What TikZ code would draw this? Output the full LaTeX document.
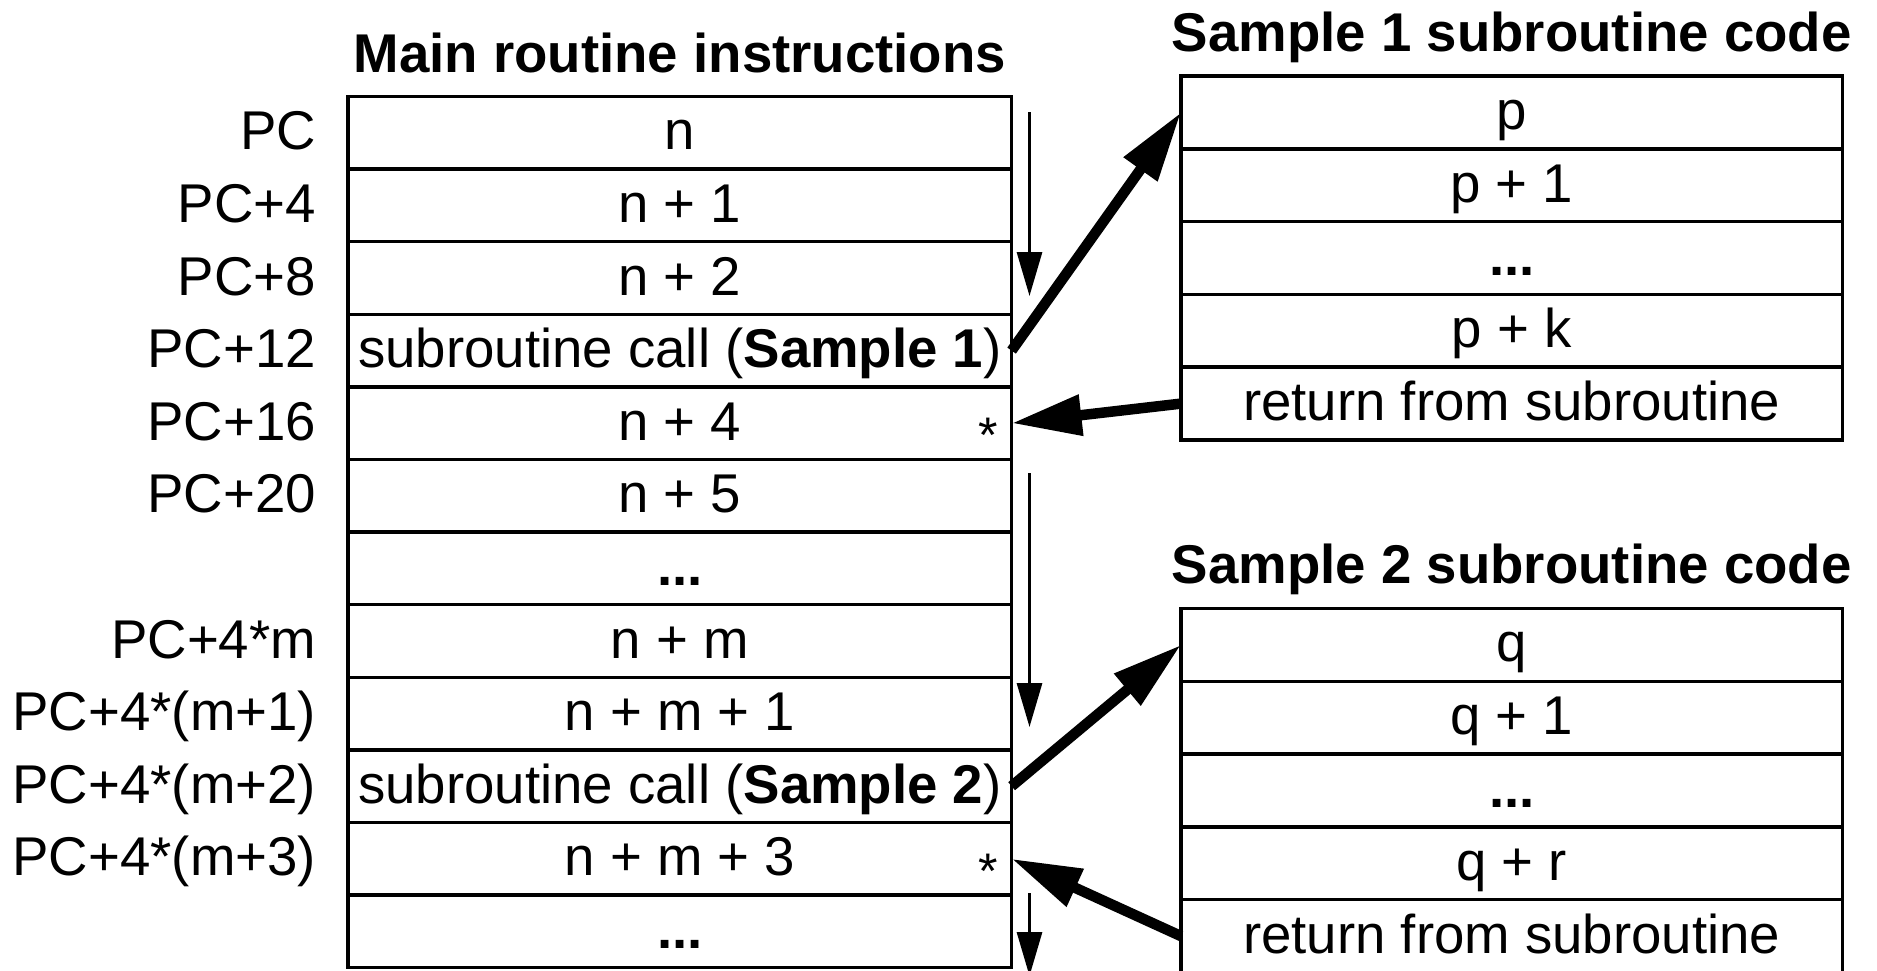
\documentclass[tikz,border=0pt]{standalone}
\usepackage{fontspec}
\setmainfont{Liberation Sans}
\usetikzlibrary{arrows.meta}
\tikzset{
  every node/.style={font=\fontsize{54.6}{60}\selectfont, inner sep=0pt, outer sep=0pt},
  maincell/.style={draw, line width=3.5pt, minimum width=663.5pt, minimum height=72.6pt, text height=41pt, text depth=7pt},
  subcell/.style={draw, line width=3.5pt, minimum width=661.5pt, minimum height=72.8pt, text height=41pt, text depth=7pt},
  lbl/.style={anchor=base east},
  ttl/.style={anchor=base, font=\fontsize{54.6}{60}\selectfont\bfseries},
  star/.style={anchor=base, font=\fontsize{50}{54}\selectfont},
  flowarrow/.style={line width=3pt, -{Triangle[length=44pt,width=25pt]}},
  jumparrow/.style={line width=10.5pt, -{Triangle[length=70pt,width=39pt]}},
}
\begin{document}
\begin{tikzpicture}[x=1pt,y=-1pt]
\useasboundingbox (0,0) rectangle (1877,970);
\clip (0,0) rectangle (1877,970);

% titles
\node[ttl] (t0) at (679.85,72) {Main routine instructions};
\node[ttl] (t1) at (1511.75,51.5) {Sample 1 subroutine code};
\node[ttl] (t2) at (1511.75,583.5) {Sample 2 subroutine code};

% main routine cells
\node[maincell] (m1)  at (679.85,132.8) {n};
\node[maincell] (m2)  at (679.85,205.4) {n + 1};
\node[maincell] (m3)  at (679.85,278.0) {n + 2};
\node[maincell] (m4)  at (679.85,350.6) {subroutine call (\textbf{Sample 1})};
\node[maincell] (m5)  at (679.85,423.2) {n + 4};
\node[maincell] (m6)  at (679.85,495.8) {n + 5};
\node[maincell] (m7)  at (679.85,568.4) {\textbf{...}};
\node[maincell] (m8)  at (679.85,641.0) {n + m};
\node[maincell] (m9)  at (679.85,713.6) {n + m + 1};
\node[maincell] (m10) at (679.85,786.2) {subroutine call (\textbf{Sample 2})};
\node[maincell] (m11) at (679.85,858.8) {n + m + 3};
\node[maincell] (m12) at (679.85,931.4) {\textbf{...}};

% asterisks
\node[star] (s1) at (988,452.5) {*};
\node[star] (s2) at (988,888.1) {*};

% row labels
\node[lbl] (l1)  at (316,149.8) {PC};
\node[lbl] (l2)  at (316,222.4) {PC+4};
\node[lbl] (l3)  at (316,295.0) {PC+8};
\node[lbl] (l4)  at (316,367.6) {PC+12};
\node[lbl] (l5)  at (316,440.2) {PC+16};
\node[lbl] (l6)  at (316,512.8) {PC+20};
\node[lbl] (l8)  at (316,658.0) {PC+4*m};
\node[lbl] (l9)  at (316,730.6) {PC+4*(m+1)};
\node[lbl] (l10) at (316,803.2) {PC+4*(m+2)};
\node[lbl] (l11) at (316,875.8) {PC+4*(m+3)};

% sample 1 cells
\node[subcell] (a1) at (1511.75,112.4) {p};
\node[subcell] (a2) at (1511.75,185.2) {p + 1};
\node[subcell] (a3) at (1511.75,258.0) {\textbf{...}};
\node[subcell] (a4) at (1511.75,330.8) {p + k};
\node[subcell] (a5) at (1511.75,403.6) {return from subroutine};

% sample 2 cells
\node[subcell] (b1) at (1511.75,644.9) {q};
\node[subcell] (b2) at (1511.75,717.7) {q + 1};
\node[subcell] (b3) at (1511.75,790.5) {\textbf{...}};
\node[subcell] (b4) at (1511.75,863.3) {q + r};
\node[subcell] (b5) at (1511.75,936.1) {return from subroutine};

% flow arrows
\coordinate (f1s) at (1029.5,112);
\coordinate (f1e) at (1029.5,296);
\coordinate (f2s) at (1029.5,473);
\coordinate (f2e) at (1029.5,727);
\coordinate (f3s) at (1029.5,893);
\coordinate (f3e) at (1029.5,976);
\draw[flowarrow] (f1s) -- (f1e);
\draw[flowarrow] (f2s) -- (f2e);
\draw[flowarrow] (f3s) -- (f3e);

% jump arrows
\draw[jumparrow] (m4.east) -- (a1.west);
\draw[jumparrow] (a5.west) -- (m5.east);
\draw[jumparrow] (m10.east) -- (b1.west);
\draw[jumparrow] (b5.west) -- (m11.east);
\end{tikzpicture}
\end{document}
